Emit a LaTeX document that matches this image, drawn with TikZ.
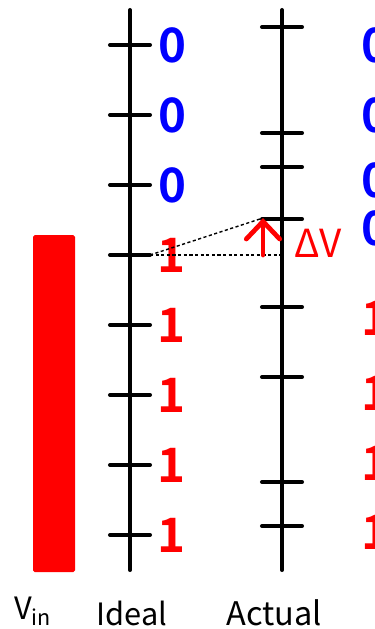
\documentclass[tikz,border=0pt]{standalone}
\usepackage{fontspec}
\setmainfont{Noto Sans CJK JP}[BoldFont={Noto Sans CJK JP Bold}]
\usetikzlibrary{arrows.meta,positioning}

\begin{document}
\begin{tikzpicture}[x=0.02cm, y=-0.02cm,
    axis/.style={line width=2.3pt, line cap=round},
    tickmark/.style={line width=2.3pt, line cap=round},
    bitzero/.style={text=blue, font=\fontsize{27}{27}\selectfont\bfseries},
    bitone/.style={text=red, font=\fontsize{27}{27}\selectfont\bfseries},
    caption/.style={anchor=base, font=\fontsize{17.5}{18}\selectfont},
    guide/.style={line width=0.8pt, dash pattern=on 1.8pt off 1.4pt}]
  \useasboundingbox (0,0) rectangle (375,629);

  % Input level
  \fill[red, rounded corners=1pt] (33,235) rectangle (75,572);

  % Ideal scale
  \draw[axis] (130,10) -- (130,570);
  \foreach \y in {45,115,...,535}
    \draw[tickmark] (110,\y) -- (150,\y);
  \foreach \y/\n in {45/a,115/b,185/c}
    \node[bitzero] (i\n) at (172,\y) {0};
  \foreach \y/\n in {255/d,325/e,395/f,465/g,535/h}
    \node[bitone] (i\n) at (171,\y) {1};

  % Actual scale
  \draw[axis] (282,10) -- (282,570);
  \foreach \y in {27,133,167,219,307,377,482,526}
    \draw[tickmark] (262,\y) -- (302,\y);
  \foreach \y/\n in {45/a,115/b,180/c,228/d}
    \node[bitzero] (a\n) at (375,\y) {0};
  \foreach \y/\n in {318/e,393/f,463/g,532/h}
    \node[bitone] (a\n) at (375,\y) {1};

  % Offset of the actual level
  \coordinate (idealtick) at (150,255);
  \coordinate (dvfoot) at (263,255);
  \coordinate (dvtop) at (263,218);
  \coordinate (dvbase) at (282,255);
  \draw[guide] (idealtick) -- (dvtop);
  \draw[guide] (idealtick) -- (dvbase);
  \draw[red, line width=2.7pt, line cap=round,
        -{Straight Barb[length=10pt, width=19pt, line cap=round]}] (dvfoot) -- (dvtop);
  \node[text=red, font=\fontsize{22}{22}\selectfont] (dv) at (318,243) {ΔV};

  % Captions
  \node[caption] (vin) at (33,619) {V\textsubscript{in}};
  \node[caption] (ideal) at (132,625) {Ideal};
  \node[caption, font=\fontsize{18.5}{19}\selectfont] (actual) at (274,625) {Actual};
\end{tikzpicture}
\end{document}
